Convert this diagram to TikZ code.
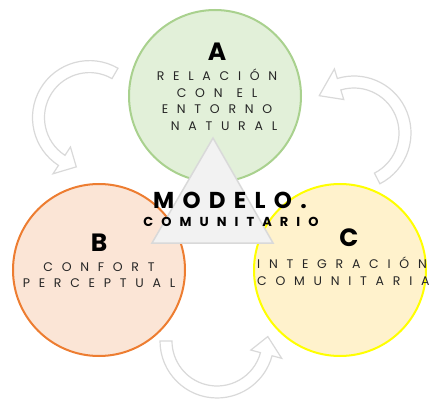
\documentclass[tikz,border=0pt]{standalone}
\usepackage{fontspec}
\setmainfont{Poppins}
\newfontfamily\bodyfont[LetterSpace=70]{Poppins}
\newfontfamily\headfont[LetterSpace=36]{Poppins}
\newfontfamily\subfont[LetterSpace=62]{Poppins}
\usetikzlibrary{positioning}

\definecolor{greenfill}{HTML}{E2F0D9}
\definecolor{greenline}{HTML}{A9D18E}
\definecolor{orangefill}{HTML}{FBE5D6}
\definecolor{orangeline}{HTML}{ED7D31}
\definecolor{yellowfill}{HTML}{FFF2CC}
\definecolor{yellowline}{HTML}{FFFF00}
\definecolor{trifill}{HTML}{F2F2F2}
\definecolor{grayline}{HTML}{D9D9D9}

\tikzset{
  bubble/.style={circle,minimum size=172,line width=2pt,inner sep=0},
  arrowband/.style={draw=grayline,fill=white,line width=1.2pt,line join=miter},
  letter/.style={font=\fontsize{25}{25}\selectfont\bfseries,text=black},
  bodytext/.style={font=\bodyfont\fontsize{12.5}{16.5}\selectfont,text=black!85,align=center,inner sep=0},
}

% curved block arrow: centre x, centre y, start angle, end angle, tip angle
\newcommand{\bandarrow}[5]{%
\begin{scope}[shift={(#1,#2)}]
\draw[arrowband] (#3:57) arc[start angle=#3,end angle=#4,radius=57]
  -- (#4:67) -- (#5:51) -- (#4:35) -- (#4:45)
  arc[start angle=#4,end angle=#3,radius=45] -- cycle;
\end{scope}}

\begin{document}
\begin{tikzpicture}[x=1pt,y=1pt]
\useasboundingbox (0,0) rectangle (432,400);

% curved arrows behind the circles
\bandarrow{89.5}{282.4}{60}{237}{255}
\bandarrow{354}{267}{-63}{107}{133}
\bandarrow{217}{59}{180}{345}{365}

% three circles
\node[bubble,draw=greenline,fill=greenfill] (circA) at (215,304) {};
\node[bubble,draw=orangeline,fill=orangefill] (circB) at (99,130) {};
\node[bubble,draw=yellowline,fill=yellowfill] (circC) at (340,130) {};

% central triangle
\draw[draw=grayline,fill=trifill,line width=1.5pt] (213,262) -- (152,157) -- (273,157) -- cycle;

% circle texts
\node[letter] (letA) at (217,348) {A};
\node[bodytext] (txtA) at (217,300) {RELACIÓN\\CON\kern14pt EL\\ENTORNO\\\hspace*{14pt}NATURAL};
\node[letter] (letB) at (99,157) {B};
\node[bodytext] (txtB) at (99,125) {CONFORT\\PERCEPTUAL};
\node[letter] (letC) at (349,162) {C};
\node[bodytext,anchor=west,align=left] (txtC) at (257,129) {INTEGRACIÓN\\COMUNITARIA};

% model title
\node[font=\headfont\fontsize{23}{23}\selectfont\bfseries] (title) at (230,200) {MODELO.};
\node[font=\subfont\fontsize{13}{13}\selectfont\bfseries] (subtitle) at (231,178) {COMUNITARIO};
\end{tikzpicture}
\end{document}
